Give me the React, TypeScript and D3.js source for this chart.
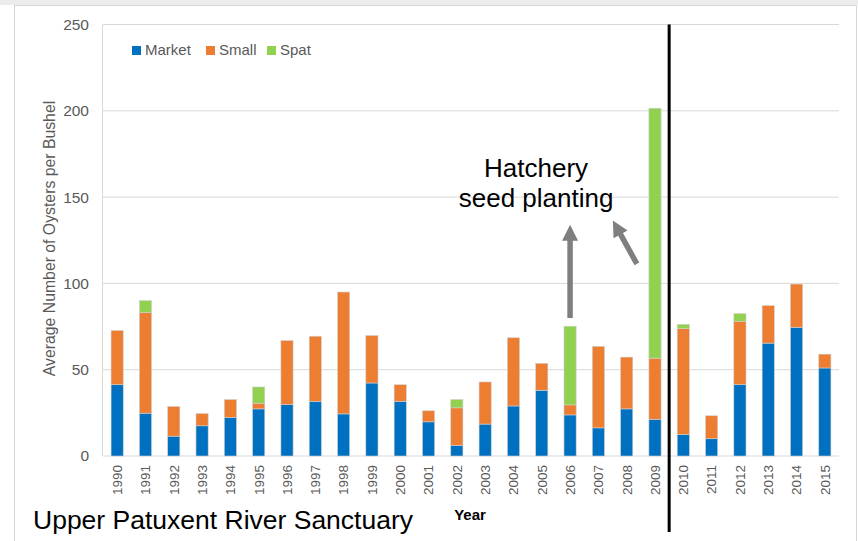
import React from "react";
import * as d3 from "d3";

const years = ["1990","1991","1992","1993","1994","1995","1996","1997","1998","1999","2000","2001","2002","2003","2004","2005","2006","2007","2008","2009","2010","2011","2012","2013","2014","2015"];
const market = [41.3,24.8,11.5,17.5,22.3,27.3,29.8,31.7,24.4,42.3,31.7,19.8,6.2,18.5,29,38.1,23.8,16.3,27.3,21.3,12.5,10,41.3,65.4,74.6,51];
const small = [31.4,58.3,17.2,7.1,10.4,3.3,37.1,37.7,70.6,27.5,9.6,6.4,21.7,24.4,39.5,15.6,5.8,47.2,30,35.4,61.3,13.3,36.8,21.7,25,8];
const spat = [0,6.9,0,0,0,9.4,0,0,0,0,0,0,4.8,0,0,0,45.6,0,0,144.8,2.5,0,4.4,0,0,0];
const seriesNames = ["Market","Small","Spat"];
const seriesColors = ["#0070C0","#ED7D31","#92D050"];
const yTicks = [0,50,100,150,200,250];
const legendX = [132,206,267];

const W = 858, H = 541;
const M = { left: 103, right: 839, top: 24.5, bottom: 456 };
const FONT = "'Liberation Sans', Arial, sans-serif";

export default function App() {
  const rows = years.map((y, i) => ({ year: y, Market: market[i], Small: small[i], Spat: spat[i] }));
  const stack = d3.stack<any>().keys(seriesNames)(rows);
  const x = d3.scaleBand<string>().domain(years).range([M.left, M.right]).paddingInner(0.57).paddingOuter(0.285);
  const y = d3.scaleLinear().domain([0, 250]).range([M.bottom, M.top]);
  const step = x.step();
  const xs = (u: number) => M.left + u * step; // position in step units (annotation)

  const arrowPoly = (x1: number, y1: number, x2: number, y2: number, sw: number, hl: number, hw: number) => {
    const dx = x2 - x1, dy = y2 - y1;
    const L = Math.hypot(dx, dy);
    const ux = dx / L, uy = dy / L, px = -uy, py = ux;
    const bx = x2 - ux * hl, by = y2 - uy * hl;
    const pts = [
      [x1 + px * sw / 2, y1 + py * sw / 2],
      [bx + px * sw / 2, by + py * sw / 2],
      [bx + px * hw / 2, by + py * hw / 2],
      [x2, y2],
      [bx - px * hw / 2, by - py * hw / 2],
      [bx - px * sw / 2, by - py * sw / 2],
      [x1 - px * sw / 2, y1 - py * sw / 2],
    ];
    return pts.map(p => p.join(",")).join(" ");
  };

  const a1x = x("2006")! + x.bandwidth() / 2;

  return (
    <svg width={W} height={H} style={{ position: "absolute", left: 0, top: 0, background: "#fff" }} fontFamily={FONT}>
      <rect x={0} y={0} width={W} height={5} fill="#ececec" />
      <rect x={14.5} y={5.5} width={842} height={H} fill="#fff" stroke="#d6d6d6" strokeWidth={1} />
      {yTicks.map(t => (
        <g key={t}>
          <line x1={M.left} x2={M.right} y1={y(t)} y2={y(t)} stroke="#d9d9d9" strokeWidth={1} />
          <text x={89} y={y(t)} dy="0.35em" textAnchor="end" fontSize={15.5} fill="#595959">{t}</text>
        </g>
      ))}
      <line x1={M.left - 0.5} x2={M.left - 0.5} y1={M.top} y2={M.bottom} stroke="#d9d9d9" strokeWidth={1} />
      {stack.map((s, si) => (
        <g key={s.key} fill={seriesColors[si]}>
          {s.map((d, i) => (d[1] - d[0] > 0 ? (
            <rect key={i} x={x(years[i])} width={x.bandwidth()} y={y(d[1])} height={y(d[0]) - y(d[1])} stroke="#d0d0d0" strokeWidth={0.6} />
          ) : null))}
        </g>
      ))}
      {years.map(yr => (
        <text key={yr} transform={`translate(${x(yr)! + x.bandwidth() / 2},465) rotate(-90)`} dy="0.36em" textAnchor="end" fontSize={13.5} fill="#595959">{yr}</text>
      ))}
      <text transform="translate(55,238.5) rotate(-90)" textAnchor="middle" fontSize={15.8} fill="#595959">Average Number of Oysters per Bushel</text>
      <text x={470} y={520} textAnchor="middle" fontSize={15} fontWeight="bold" fill="#000">Year</text>
      {seriesNames.map((n, i) => (
        <g key={n}>
          <rect x={legendX[i]} y={46} width={9} height={9} fill={seriesColors[i]} />
          <text x={legendX[i] + 13} y={55} fontSize={15} fill="#595959">{n}</text>
        </g>
      ))}
      <line x1={xs(20)} x2={xs(20)} y1={M.top} y2={532} stroke="#000" strokeWidth={3} />
      <polygon points={arrowPoly(a1x, y(80), a1x, y(134), 5.5, 16, 16)} fill="#7f7f7f" />
      <polygon points={arrowPoly(xs(18.86), y(111.3), xs(18.01), y(136.5), 5.5, 16, 16)} fill="#7f7f7f" />
      <text x={xs(15.3)} y={y(161.8)} textAnchor="middle" fontSize={26} fill="#000">Hatchery</text>
      <text x={xs(15.3)} y={y(144)} textAnchor="middle" fontSize={26} fill="#000">seed planting</text>
      <text x={33} y={529} fontSize={26.5} fill="#000">Upper Patuxent River Sanctuary</text>
    </svg>
  );
}
